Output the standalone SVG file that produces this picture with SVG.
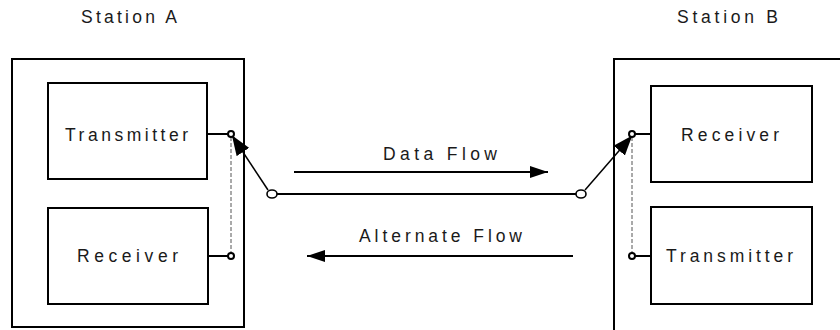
<svg xmlns="http://www.w3.org/2000/svg" width="840" height="330" viewBox="0 0 840 330">
  <style>
    .box { fill: #fff; stroke: #000; stroke-width: 2; }
    .lbl { font-family: "Liberation Sans", Arial, sans-serif; font-size: 17.5px; fill: #1a1a1a; }
    .wire { stroke: #000; stroke-width: 2; fill: none; }
    .thin { stroke: #000; stroke-width: 1.5; fill: none; }
    .dash { stroke: #555; stroke-width: 1; stroke-dasharray: 4 2; fill: none; }
    .port { fill: #fff; stroke: #000; stroke-width: 2; }
    .node { fill: #fff; stroke: #000; stroke-width: 1.6; }
  </style>
  <defs>
    <marker id="head" viewBox="0 0 18 12" refX="18" refY="6" markerWidth="18" markerHeight="12" markerUnits="userSpaceOnUse" orient="auto">
      <path d="M0,0 L18,6 L0,12 Z" fill="#000"/>
    </marker>
    <marker id="headSwitch" viewBox="0 0 20 15" refX="18" refY="7.5" markerWidth="20" markerHeight="15" markerUnits="userSpaceOnUse" orient="auto">
      <path d="M0,0 L20,7.5 L0,15 Z" fill="#000"/>
    </marker>
  </defs>

  <rect width="840" height="330" fill="#fff"/>

  <!-- Station A -->
  <g id="stationA">
    <rect class="box" x="12" y="59" width="232" height="268"/>
    <text class="lbl" x="81" y="23" textLength="96" lengthAdjust="spacing">Station A</text>
  </g>
  <g id="transmitterA">
    <rect class="box" x="48" y="83" width="159" height="96"/>
    <text class="lbl" x="65" y="141" textLength="123" lengthAdjust="spacing">Transmitter</text>
  </g>
  <g id="receiverA">
    <rect class="box" x="48" y="208" width="160" height="96"/>
    <text class="lbl" x="77" y="262" textLength="101" lengthAdjust="spacing">Receiver</text>
  </g>

  <!-- Station B (extends past the right edge) -->
  <g id="stationB">
    <rect class="box" x="614" y="59" width="300" height="300"/>
    <text class="lbl" x="677" y="23" textLength="101" lengthAdjust="spacing">Station B</text>
  </g>
  <g id="receiverB">
    <rect class="box" x="651" y="86" width="161" height="96"/>
    <text class="lbl" x="681" y="141" textLength="98" lengthAdjust="spacing">Receiver</text>
  </g>
  <g id="transmitterB">
    <rect class="box" x="651" y="207" width="161" height="97"/>
    <text class="lbl" x="666" y="262" textLength="127" lengthAdjust="spacing">Transmitter</text>
  </g>

  <!-- Flow labels -->
  <g id="dataFlow">
    <text class="lbl" x="383" y="160" textLength="114" lengthAdjust="spacing">Data Flow</text>
  </g>
  <g id="alternateFlow">
    <text class="lbl" x="359" y="242" textLength="163" lengthAdjust="spacing">Alternate Flow</text>
  </g>

  <!-- Connectors -->
  <g id="connectors">
    <!-- port leads -->
    <line class="wire" x1="207" y1="134" x2="229" y2="134"/>
    <line class="wire" x1="208" y1="256" x2="229" y2="256"/>
    <line class="wire" x1="635" y1="134" x2="651" y2="134"/>
    <line class="wire" x1="635" y1="256" x2="651" y2="256"/>

    <!-- alternate switch positions -->
    <line class="dash" x1="231" y1="137" x2="231" y2="253"/>
    <line class="dash" x1="632" y1="137" x2="632" y2="253"/>

    <!-- switch arms -->
    <line class="thin" x1="268" y1="190" x2="233" y2="137" marker-end="url(#headSwitch)"/>
    <line class="thin" x1="585" y1="190" x2="631" y2="137" marker-end="url(#headSwitch)"/>

    <!-- link between stations -->
    <line class="wire" x1="277" y1="194" x2="576" y2="194"/>

    <!-- flow direction arrows -->
    <line class="wire" x1="294" y1="172" x2="548" y2="172" marker-end="url(#head)"/>
    <line class="wire" x1="573" y1="256" x2="307" y2="256" marker-end="url(#head)"/>

    <!-- ports and junctions -->
    <circle class="port" cx="231" cy="134" r="3"/>
    <circle class="port" cx="231" cy="256" r="3"/>
    <circle class="port" cx="632" cy="134" r="3"/>
    <circle class="port" cx="632" cy="256" r="3"/>
    <ellipse class="node" cx="272" cy="194" rx="5" ry="4"/>
    <ellipse class="node" cx="581" cy="194" rx="5" ry="4"/>
  </g>
</svg>
